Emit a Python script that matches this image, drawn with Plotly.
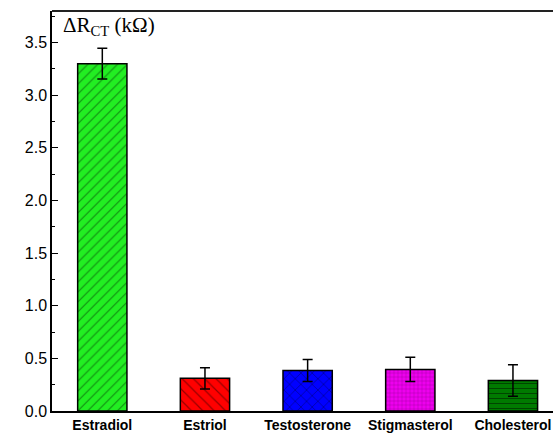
import plotly.graph_objects as go

# Steroid selectivity: change in charge-transfer resistance
compounds = ["Estradiol", "Estriol", "Testosterone", "Stigmasterol", "Cholesterol"]
delta_rct = [3.30, 0.31, 0.385, 0.395, 0.29]
errors = [0.145, 0.10, 0.105, 0.115, 0.15]
y_ticks = [0.0, 0.5, 1.0, 1.5, 2.0, 2.5, 3.0, 3.5]

fill_colors = ["#22ee22", "#ff0000", "#0000ff", "#ee00ee", "#007a00"]
hatch_colors = ["#118811", "#990000", "#000088", "#880088", "#003300"]
patterns = ["/", "\\", "x", "+", "-"]
pattern_sizes = [7, 8, 8, 4, 5]

W, H = 553, 437
ml, mr, mt, mb = 52, 0, 11, 26

fig = go.Figure()
# one trace per compound so each bar carries its own hatch colours
for i, name in enumerate(compounds):
    fig.add_trace(go.Bar(
        x=[i],
        y=[delta_rct[i]],
        width=0.48,
        name=name,
        marker=dict(
            color=fill_colors[i],
            line=dict(color="black", width=1.5),
            pattern=dict(
                shape=patterns[i],
                bgcolor=fill_colors[i],
                fgcolor=hatch_colors[i],
                size=pattern_sizes[i],
                solidity=0.15,
                fillmode="replace",
            ),
        ),
        error_y=dict(type="data", array=[errors[i]], visible=True,
                     color="black", thickness=1.5, width=5),
        showlegend=False,
    ))

fig.update_layout(
    width=W, height=H,
    margin=dict(l=ml, r=mr, t=mt, b=mb),
    paper_bgcolor="white",
    plot_bgcolor="white",
    barmode="overlay",
    xaxis=dict(
        range=[-0.49, 4.39],
        tickmode="array",
        tickvals=list(range(len(compounds))),
        ticktext=[f"<b>{c}</b>" for c in compounds],
        ticks="",
        showline=True, linecolor="black", linewidth=1.5, mirror=False,
        showgrid=False, zeroline=False,
        tickfont=dict(family="Liberation Sans, Arial", size=14, color="black"),
    ),
    yaxis=dict(
        range=[0, 3.8],
        tickmode="array",
        tickvals=y_ticks,
        ticktext=[f"{v:.1f}" for v in y_ticks],
        ticks="inside", ticklen=6, tickwidth=1.2, tickcolor="black",
        minor=dict(ticks="inside", ticklen=3, tickwidth=1.2, tickcolor="black", dtick=0.25),
        showline=True, linecolor="black", linewidth=1.5, mirror=False,
        showgrid=False, zeroline=False,
        tickfont=dict(family="Liberation Sans, Arial", size=16, color="black"),
    ),
    shapes=[dict(
        type="line", xref="paper", yref="paper",
        x0=0, x1=1, y0=1, y1=1,
        line=dict(color="#222222", width=2),
    )],
    annotations=[dict(
        text="ΔR<sub>CT</sub> (kΩ)",
        xref="paper", yref="paper",
        x=(61 - ml) / (W - ml - mr), y=1.0,
        xanchor="left", yanchor="top",
        showarrow=False,
        font=dict(family="Liberation Serif, Times New Roman", size=21, color="black"),
    )],
)

fig.write_html("out.html")
